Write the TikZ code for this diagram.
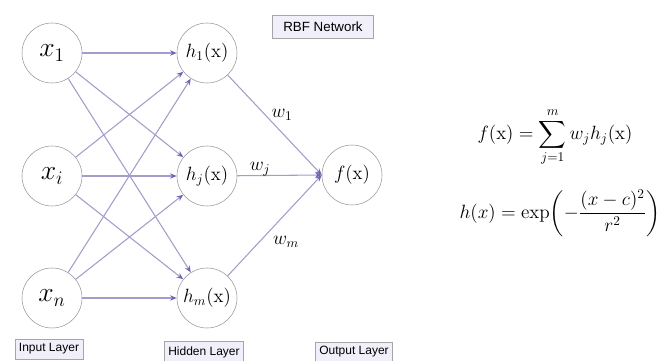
\documentclass[tikz,border=0pt]{standalone}
\usepackage{amsmath}
\usepackage{fontspec}
\setsansfont{Liberation Sans}
\usetikzlibrary{arrows.meta}

\definecolor{rbfline}{RGB}{165,156,204}
\definecolor{rbftip}{RGB}{118,98,178}
\definecolor{rbfring}{RGB}{150,150,150}
\definecolor{rbffill}{RGB}{241,239,250}

\begin{document}
\begin{tikzpicture}[
  x=0.75pt, y=-0.75pt,
  >={Stealth[length=5pt, width=4pt, color=rbftip]},
  rbfneuron/.style={circle, draw=rbfring, fill=white, minimum size=45pt, inner sep=0pt},
  rbfbox/.style={rectangle, draw=gray!70, fill=rbffill, font=\sffamily\fontsize{9}{10}\selectfont, inner xsep=3pt, inner ysep=3.5pt},
  rbfarrow/.style={->, draw=rbfline, line width=0.8pt},
  rbfweight/.style={font=\Large, inner sep=1pt}
]
\useasboundingbox[fill=white] (0,0) rectangle (662,361);

% Input Layer
\node[rbfneuron, font=\huge] (X1) at (52,53) {$x_1$};
\node[rbfneuron, font=\huge] (Xi) at (52,176) {$x_i$};
\node[rbfneuron, font=\huge] (Xn) at (52,298) {$x_n$};

% Hidden Layer
\node[rbfneuron, font=\Large] (H1) at (207,53) {$h_1(\mathrm{x})$};
\node[rbfneuron, font=\Large] (Hj) at (207,176) {$h_j(\mathrm{x})$};
\node[rbfneuron, font=\Large] (Hm) at (207,298) {$h_m(\mathrm{x})$};

% Output Layer
\node[rbfneuron, font=\Large] (F) at (352,175) {$f(\mathrm{x})$};

% Layer captions
\node[rbfbox, minimum width=51pt] (InCap) at (49,349) {Input Layer};
\node[rbfbox, minimum width=58pt] (HidCap) at (204,352) {Hidden Layer};
\node[rbfbox, minimum width=58pt] (OutCap) at (354,352) {Output Layer};
\node[rbfbox, font=\sffamily\fontsize{10}{12}\selectfont, inner ysep=5pt, minimum width=76pt] (Title) at (323,27) {RBF Network};

% Formulas
\node[font=\Large] (FEq) at (555,137) {$f(\mathrm{x}) = \displaystyle\sum_{j=1}^{m} w_j h_j(\mathrm{x})$};
\node[font=\Large, anchor=east, inner sep=1pt] (HEq) at (662,213) {$h(x) = \exp\!\left(-\dfrac{(x-c)^2}{r^2}\right)$};

% Routing input -> hidden
\draw[rbfarrow] (X1) -- (H1);
\draw[rbfarrow] (X1) -- (Hj);
\draw[rbfarrow] (X1) -- (Hm);
\draw[rbfarrow] (Xi) -- (H1);
\draw[rbfarrow] (Xi) -- (Hj);
\draw[rbfarrow] (Xi) -- (Hm);
\draw[rbfarrow] (Xn) -- (H1);
\draw[rbfarrow] (Xn) -- (Hj);
\draw[rbfarrow] (Xn) -- (Hm);

% Routing hidden -> output
\draw[rbfarrow] (H1) -- (F.west);
\draw[rbfarrow] (Hj) -- (F.west);
\draw[rbfarrow] (Hm) -- (F.west);

% Weights
\node[rbfweight] (W1) at (282,115) {$w_1$};
\node[rbfweight] (Wj) at (260,169) {$w_j$};
\node[rbfweight] (Wm) at (286,242) {$w_m$};

\end{tikzpicture}
\end{document}
